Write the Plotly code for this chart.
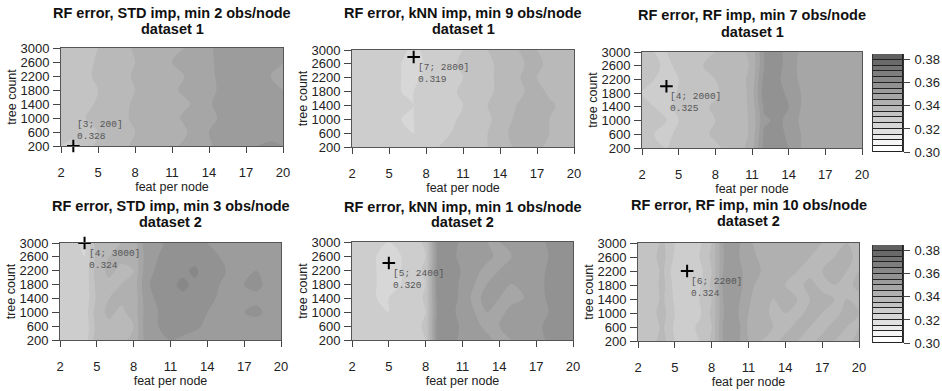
import plotly.graph_objects as go

# ---------------- data ----------------
feat = list(range(2, 21))                       # feat per node
trees = [200, 600, 1000, 1400, 1800, 2200, 2600, 3000]   # tree count

title_line1 = [
    "RF error, STD imp, min 2 obs/node",
    "RF error, kNN imp, min 9 obs/node",
    "RF error, RF imp, min 7 obs/node",
    "RF error, STD imp, min 3 obs/node",
    "RF error, kNN imp, min 1 obs/node",
    "RF error, RF imp, min 10 obs/node",
]
title_line2 = ["dataset 1", "dataset 1", "dataset 1", "dataset 2", "dataset 2", "dataset 2"]

# error values (x1000), rows = trees (bottom to top), cols = feat 2..20
err_std_min2_ds1 = [
    [330, 328, 333, 336, 338, 339, 341, 342, 343, 344, 346, 347, 349, 352, 353, 354, 355, 356, 355],
    [331, 332, 334, 335, 337, 338, 340, 343, 342, 345, 344, 348, 350, 353, 355, 353, 354, 353, 352],
    [330, 331, 335, 337, 336, 339, 341, 341, 344, 343, 346, 347, 348, 351, 354, 355, 352, 351, 350],
    [331, 332, 333, 336, 338, 337, 342, 340, 342, 345, 344, 346, 349, 353, 352, 354, 353, 350, 351],
    [330, 331, 334, 335, 337, 339, 340, 342, 343, 344, 346, 348, 347, 352, 354, 353, 355, 351, 350],
    [331, 330, 334, 336, 338, 338, 341, 341, 344, 343, 345, 347, 349, 351, 355, 354, 352, 350, 349],
    [330, 331, 333, 336, 337, 339, 340, 342, 342, 345, 346, 346, 348, 353, 353, 355, 353, 351, 350],
    [331, 332, 335, 335, 338, 338, 341, 343, 343, 344, 345, 348, 349, 352, 354, 353, 354, 352, 350],
]
err_knn_min9_ds1 = [
    [330, 329, 327, 327, 326, 326, 327, 330, 332, 331, 333, 335, 337, 340, 342, 341, 339, 338, 339],
    [329, 328, 328, 326, 326, 325, 326, 328, 330, 332, 334, 335, 338, 341, 343, 342, 340, 339, 338],
    [330, 327, 327, 327, 325, 325, 326, 327, 329, 331, 332, 334, 337, 340, 341, 343, 340, 338, 339],
    [328, 329, 327, 326, 326, 325, 326, 328, 330, 330, 333, 335, 338, 339, 342, 341, 341, 339, 337],
    [329, 328, 326, 326, 325, 325, 326, 327, 329, 331, 332, 334, 336, 340, 340, 342, 339, 338, 338],
    [330, 328, 327, 326, 325, 324, 326, 328, 330, 330, 333, 333, 337, 338, 341, 340, 340, 339, 337],
    [329, 327, 326, 326, 325, 321, 326, 327, 329, 331, 332, 334, 336, 339, 340, 341, 339, 338, 338],
    [330, 328, 327, 326, 326, 324, 326, 328, 330, 330, 333, 335, 337, 339, 341, 340, 340, 339, 338],
]
err_rf_min7_ds1 = [
    [332, 331, 330, 332, 333, 335, 334, 336, 338, 343, 357, 358, 355, 350, 346, 347, 348, 347, 348],
    [331, 330, 329, 331, 334, 334, 336, 337, 336, 342, 356, 357, 354, 350, 347, 345, 347, 349, 346],
    [332, 331, 330, 330, 332, 335, 335, 336, 338, 341, 354, 356, 354, 349, 348, 346, 346, 348, 347],
    [331, 330, 329, 331, 333, 334, 336, 335, 337, 342, 356, 358, 355, 350, 346, 347, 347, 347, 348],
    [330, 329, 326, 331, 332, 335, 334, 337, 336, 343, 358, 357, 354, 350, 347, 346, 348, 348, 347],
    [331, 330, 328, 330, 333, 334, 335, 336, 338, 342, 357, 356, 353, 349, 347, 347, 346, 347, 348],
    [332, 331, 329, 331, 332, 335, 336, 337, 337, 341, 355, 356, 354, 348, 348, 346, 347, 348, 347],
    [331, 330, 330, 332, 333, 334, 335, 336, 338, 342, 355, 356, 354, 349, 347, 347, 348, 347, 348],
]
err_std_min3_ds2 = [
    [327, 326, 327, 338, 340, 339, 341, 352, 354, 355, 354, 353, 355, 354, 353, 352, 354, 355, 354],
    [326, 327, 326, 337, 339, 340, 340, 353, 355, 356, 357, 356, 354, 353, 354, 355, 353, 354, 355],
    [327, 326, 327, 338, 341, 339, 342, 352, 355, 357, 358, 357, 355, 354, 352, 355, 356, 354, 353],
    [326, 327, 326, 336, 340, 341, 341, 353, 356, 358, 359, 360, 357, 354, 355, 352, 354, 355, 354],
    [327, 326, 326, 337, 339, 340, 342, 354, 357, 359, 361, 359, 358, 355, 353, 355, 356, 354, 353],
    [326, 325, 326, 338, 341, 339, 340, 353, 356, 360, 359, 361, 357, 356, 354, 353, 355, 354, 353],
    [327, 326, 325, 337, 340, 341, 341, 352, 355, 358, 360, 358, 356, 355, 353, 354, 353, 352, 354],
    [326, 326, 324, 338, 339, 340, 342, 353, 354, 356, 357, 356, 355, 354, 353, 352, 353, 353, 352],
]
err_knn_min1_ds2 = [
    [328, 327, 326, 327, 328, 329, 330, 358, 359, 352, 350, 351, 349, 350, 351, 352, 356, 358, 357],
    [327, 328, 325, 326, 327, 328, 331, 359, 360, 353, 351, 349, 350, 351, 350, 353, 357, 359, 356],
    [328, 326, 326, 325, 326, 328, 330, 357, 358, 351, 350, 350, 349, 351, 352, 351, 355, 357, 358],
    [327, 327, 325, 325, 326, 327, 331, 358, 360, 352, 349, 351, 350, 349, 350, 352, 356, 358, 357],
    [328, 326, 325, 325, 325, 327, 330, 359, 359, 353, 350, 350, 351, 350, 351, 351, 357, 358, 356],
    [327, 326, 325, 323, 325, 328, 331, 358, 360, 354, 351, 349, 350, 351, 350, 352, 356, 359, 357],
    [328, 327, 325, 324, 325, 327, 330, 357, 358, 352, 350, 351, 349, 350, 351, 351, 355, 357, 358],
    [327, 328, 326, 325, 326, 328, 331, 358, 359, 353, 351, 350, 350, 351, 350, 352, 356, 358, 357],
]
err_rf_min10_ds2 = [
    [332, 333, 337, 330, 329, 330, 336, 351, 352, 345, 340, 339, 341, 340, 339, 341, 340, 339, 341],
    [331, 332, 336, 329, 328, 331, 335, 352, 353, 344, 341, 340, 339, 341, 340, 339, 341, 340, 340],
    [332, 333, 337, 330, 328, 329, 336, 350, 351, 345, 342, 339, 340, 339, 341, 340, 339, 341, 340],
    [333, 332, 336, 329, 327, 330, 335, 351, 352, 346, 341, 340, 341, 340, 340, 341, 340, 340, 339],
    [332, 331, 337, 328, 326, 329, 336, 352, 353, 347, 343, 341, 340, 339, 341, 339, 340, 339, 341],
    [331, 332, 336, 327, 325, 328, 335, 351, 352, 348, 345, 342, 341, 340, 339, 340, 341, 340, 340],
    [332, 333, 337, 329, 327, 330, 336, 350, 351, 347, 344, 341, 340, 341, 340, 339, 340, 341, 339],
    [333, 332, 336, 330, 328, 329, 335, 351, 352, 346, 343, 340, 341, 340, 341, 340, 339, 340, 340],
]
panels = [err_std_min2_ds1, err_knn_min9_ds1, err_rf_min7_ds1,
          err_std_min3_ds2, err_knn_min1_ds2, err_rf_min10_ds2]

# best (minimum) points
best_feat = [3, 7, 4, 4, 5, 6]
best_trees = [200, 2800, 2000, 3000, 2400, 2200]
best_err = [0.328, 0.319, 0.325, 0.324, 0.320, 0.324]

# contour levels
lvl_start, lvl_end, lvl_step = 0.300, 0.385, 0.005
cb_ticks = [0.30, 0.32, 0.34, 0.36, 0.38]

# ---------------- layout helpers ----------------
W, H = 942, 391
boxes = [  # left, right, top, bottom in px
    (61, 283, 48, 146), (352, 574, 50, 147), (642, 862, 52, 148),
    (60, 281, 243, 340), (352, 573, 242, 340), (638, 859, 243, 341),
]
title_y = [(13, 29), (13, 29), (15, 32), (206, 222), (207, 222), (205, 221)]
cb_boxes = [(873, 903, 54, 152), (873, 903, 245, 343)]

def xd(l, r):
    return [l / W, r / W]

def yd(t, b):
    return [1 - b / H, 1 - t / H]

nlev = int(round((lvl_end - lvl_start) / lvl_step))
g_hi, g_lo = 255, 96
def band_gray(i):
    g = int(round(g_hi - (g_hi - g_lo) * i / (nlev - 1)))
    return f"rgb({g},{g},{g})"

band_colors = [band_gray(i) for i in range(nlev)]
band_base = [lvl_start + i * lvl_step for i in range(nlev)]
cscale = [[i / (nlev - 1), band_colors[i]] for i in range(nlev)]

FONT = "Liberation Sans, Arial, sans-serif"
fig = go.Figure()
layout = dict(
    width=W, height=H, margin=dict(l=0, r=0, t=0, b=0),
    paper_bgcolor="white", plot_bgcolor="white",
    font=dict(family=FONT, size=12, color="#222"),
    showlegend=False, bargap=0,
)
annotations = []

for k, z in enumerate(panels):
    n = k + 1
    xa = "x" if n == 1 else f"x{n}"
    ya = "y" if n == 1 else f"y{n}"
    fig.add_trace(go.Contour(
        x=feat, y=trees, z=[[v / 1000 for v in row] for row in z],
        xaxis=xa, yaxis=ya,
        autocontour=False,
        contours=dict(start=lvl_start, end=lvl_end, size=lvl_step, coloring="fill", showlines=False),
        line=dict(width=0),
        colorscale=cscale, zmin=lvl_start + lvl_step / 2, zmax=lvl_end - lvl_step / 2,
        showscale=False, hoverinfo="skip",
    ))
    fig.add_trace(go.Scatter(
        x=[best_feat[k]], y=[best_trees[k]], mode="markers",
        marker=dict(symbol="cross-thin", size=9, line=dict(width=2, color="black"), color="black"),
        xaxis=xa, yaxis=ya, cliponaxis=False, hoverinfo="skip",
    ))
    l, r, t, b = boxes[k]
    axkey = "xaxis" if n == 1 else f"xaxis{n}"
    aykey = "yaxis" if n == 1 else f"yaxis{n}"
    layout[axkey] = dict(
        domain=xd(l, r), anchor=ya, range=[2, 20], tickvals=[2, 5, 8, 11, 14, 17, 20],
        ticks="outside", ticklen=6, tickcolor="#444", showline=True, mirror=True,
        linecolor="#555", linewidth=1, showgrid=False, zeroline=False,
        ticklabelstandoff=8, tickfont=dict(size=13, color="#222"),
        title=dict(text="feat per node", font=dict(size=12.5, color="#222"), standoff=1),
        automargin=False,
    )
    layout[aykey] = dict(
        domain=yd(t, b), anchor=xa, range=[200, 3000], tickvals=list(range(200, 3001, 400)),
        ticks="outside", ticklen=7, tickcolor="#444", showline=True, mirror=True,
        linecolor="#555", linewidth=1, showgrid=False, zeroline=False,
        ticklabelstandoff=1, tickfont=dict(size=13, color="#222"),
        title=dict(text="tree count", font=dict(size=12.5, color="#222"), standoff=1),
        automargin=False,
    )
    for line_text, py in zip((title_line1[k], title_line2[k]), title_y[k]):
        annotations.append(dict(
            xref="paper", yref="paper", x=(l + r) / 2 / W, y=1 - py / H,
            xanchor="center", yanchor="middle", showarrow=False,
            text=f"<b>{line_text}</b>", font=dict(size=14.5, color="#111", family=FONT),
        ))
    above = best_trees[k] <= 600
    annotations.append(dict(
        xref=xa, yref=ya, x=best_feat[k], y=best_trees[k],
        xanchor="left", yanchor="bottom" if above else "top",
        xshift=2, yshift=2 if above else -3, showarrow=False, align="left",
        text=f"[{best_feat[k]}; {best_trees[k]}]<br>{best_err[k]:.3f}",
        font=dict(size=9.5, color="#555", family="Liberation Mono, Courier New, monospace"),
    ))

# manual colour keys
for j, (l, r, t, b) in enumerate(cb_boxes):
    n = 7 + j
    fig.add_trace(go.Bar(
        x=[0] * nlev, y=[lvl_step] * nlev, base=band_base, width=1,
        marker=dict(color=band_colors, line=dict(color="#222", width=1)),
        xaxis=f"x{n}", yaxis=f"y{n}", hoverinfo="skip",
    ))
    layout[f"xaxis{n}"] = dict(domain=xd(l, r), anchor=f"y{n}", range=[-0.5, 0.5],
                               visible=False, fixedrange=True)
    layout[f"yaxis{n}"] = dict(domain=yd(t, b), anchor=f"x{n}", side="right",
                               range=[lvl_start, lvl_end], tickvals=cb_ticks,
                               tickformat=".2f", ticks="outside", ticklen=6, tickcolor="#444",
                               showline=True, mirror=True, linecolor="#333", linewidth=1,
                               showgrid=False, zeroline=False, ticklabelstandoff=2,
                               tickfont=dict(size=13, color="#222"), automargin=False)

layout["annotations"] = annotations
fig.update_layout(**layout)
fig.write_html("out.html")
